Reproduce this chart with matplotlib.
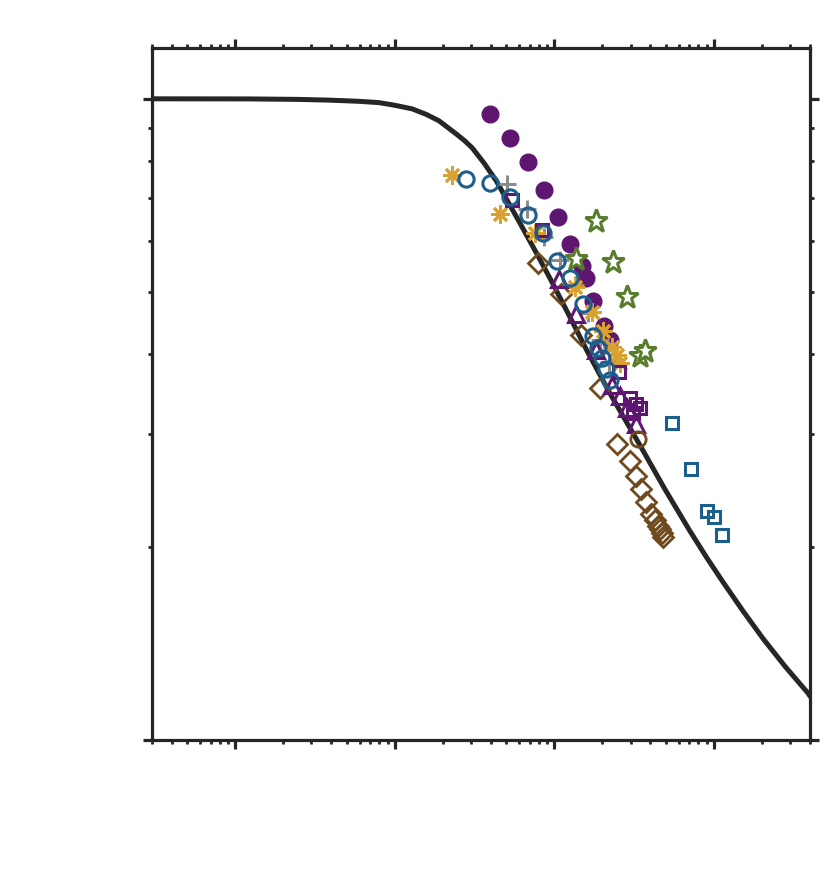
import matplotlib
matplotlib.use("Agg")
import matplotlib.pyplot as plt

# model curve
curve_x = [0.3, 1.21, 2.49, 3.85, 5.94, 7.94, 9.86, 12.8, 15.67, 18.9, 24.19, 27.16, 30.5,
           36.29, 43.2, 60.2, 77.06, 97.1, 124, 159, 222, 275.6, 343, 491.8, 707, 903.6,
           1140, 1522, 2033, 2796, 3846, 4000]
curve_y = [1.0, 0.9996, 0.9979, 0.9953, 0.9911, 0.9864, 0.9776, 0.9647, 0.9459, 0.9240,
           0.8817, 0.8615, 0.8386, 0.7933, 0.7447, 0.6428, 0.5750, 0.5164, 0.4587, 0.4059,
           0.3478, 0.3168, 0.2885, 0.2463, 0.2118, 0.1923, 0.1763, 0.1589, 0.1439, 0.1302,
           0.1187, 0.1171]

# measured series
filled_x = [39.6, 52.9, 68.6, 86.5, 106.0, 126.1, 147.9, 156.7, 173.4, 203.3, 221.8]
filled_y = [0.948, 0.869, 0.798, 0.721, 0.655, 0.594, 0.549, 0.526, 0.484, 0.442, 0.421]

ocirc_x = [28.0, 39.6, 52.9, 68.6, 85.3, 104.4, 126.1, 150.0, 173.4, 186.4, 197.5, 209.3, 221.8]
ocirc_y = [0.750, 0.740, 0.703, 0.659, 0.618, 0.559, 0.526, 0.479, 0.427, 0.409, 0.394, 0.379, 0.364]

aster_x = [22.8, 45.7, 76.0, 133.6, 170.9, 200.4, 228.4, 245.5, 256.4]
aster_y = [0.761, 0.662, 0.618, 0.509, 0.465, 0.435, 0.410, 0.399, 0.387]

plus_x = [50.6, 67.7, 86.5, 109.1, 133.6, 161.3, 191.9, 218.6]
plus_y = [0.737, 0.674, 0.609, 0.561, 0.513, 0.464, 0.421, 0.389]

psq_x = [54.4, 84.0, 252.7, 296.3, 323.2, 342.5, 309.5]
psq_y = [0.696, 0.625, 0.375, 0.342, 0.334, 0.330, 0.324]

tri_x = [107.5, 137.5, 181.1, 228.4, 256.4, 283.7, 323.2]
tri_y = [0.524, 0.462, 0.406, 0.358, 0.344, 0.330, 0.311]

star_x = [137.5, 181.1, 231.7, 283.7, 342.5, 368.1]
star_y = [0.563, 0.645, 0.557, 0.491, 0.397, 0.404]

diam_x = [79.3, 110.7, 145.7, 191.9, 245.5, 296.3, 323.2, 347.5, 373.5, 401.7, 425.6,
          444.5, 457.5, 471.0, 477.8]
diam_y = [0.555, 0.497, 0.428, 0.354, 0.289, 0.272, 0.258, 0.246, 0.235, 0.225, 0.220,
          0.216, 0.213, 0.210, 0.207]

bcirc_x = [332.7]
bcirc_y = [0.295]

bsq_x = [544.4, 716.8, 903.6, 1000, 1123]
bsq_y = [0.312, 0.265, 0.228, 0.223, 0.209]

dark = "#262626"
purple = "#5e1670"
blue = "#1c5e8c"
gold = "#d9a032"
gray = "#8c8c8c"
green = "#5a7c2e"
brown = "#6e4a1e"

fig = plt.figure(figsize=(8.3, 8.83), dpi=100)
ax = fig.add_axes([0.1831, 0.1619, 0.7928, 0.7837])

ax.plot(curve_x, curve_y, color=dark, lw=3.6, zorder=2, solid_joinstyle="round")

ax.plot(filled_x, filled_y, "o", ms=12, color=purple, mec=purple, zorder=3)
ax.plot(star_x, star_y, "*", ms=17, mfc="white", mec=green, mew=2.2, ls="none", zorder=3)
ax.plot(diam_x, diam_y, "D", ms=10, mfc="none", mec=brown, mew=2, ls="none", zorder=3)
ax.plot(plus_x, plus_y, "+", ms=13, mec=gray, mew=2.2, ls="none", zorder=4)
ax.plot(aster_x, aster_y, marker=(8, 2, 0), ms=13, mec=gold, mew=2, ls="none", zorder=4)
ax.plot(psq_x, psq_y, "s", ms=9, mfc="none", mec=purple, mew=2.2, ls="none", zorder=4)
ax.plot(tri_x, tri_y, "^", ms=11, mfc="none", mec=purple, mew=2.2, ls="none", zorder=4)
ax.plot(ocirc_x, ocirc_y, "o", ms=11, mfc="none", mec=blue, mew=2.2, ls="none", zorder=5)
ax.plot(bcirc_x, bcirc_y, "o", ms=11, mfc="none", mec=brown, mew=2, ls="none", zorder=4)
ax.plot(bsq_x, bsq_y, "s", ms=9, mfc="none", mec=blue, mew=2.2, ls="none", zorder=4)

ax.set_xscale("log")
ax.set_yscale("log")
ax.set_xlim(0.3, 4000)
ax.set_ylim(0.1, 1.2)

for s in ax.spines.values():
    s.set_linewidth(2.3)
    s.set_color(dark)

ax.tick_params(which="both", direction="out", top=True, right=True, color=dark,
               labelbottom=False, labelleft=False, labeltop=False, labelright=False)
ax.tick_params(which="major", length=6.5, width=2.3)
ax.tick_params(which="minor", length=3, width=2)
ax.xaxis.set_minor_formatter(plt.NullFormatter())
ax.yaxis.set_minor_formatter(plt.NullFormatter())

fig.savefig("out.png", dpi=100)
